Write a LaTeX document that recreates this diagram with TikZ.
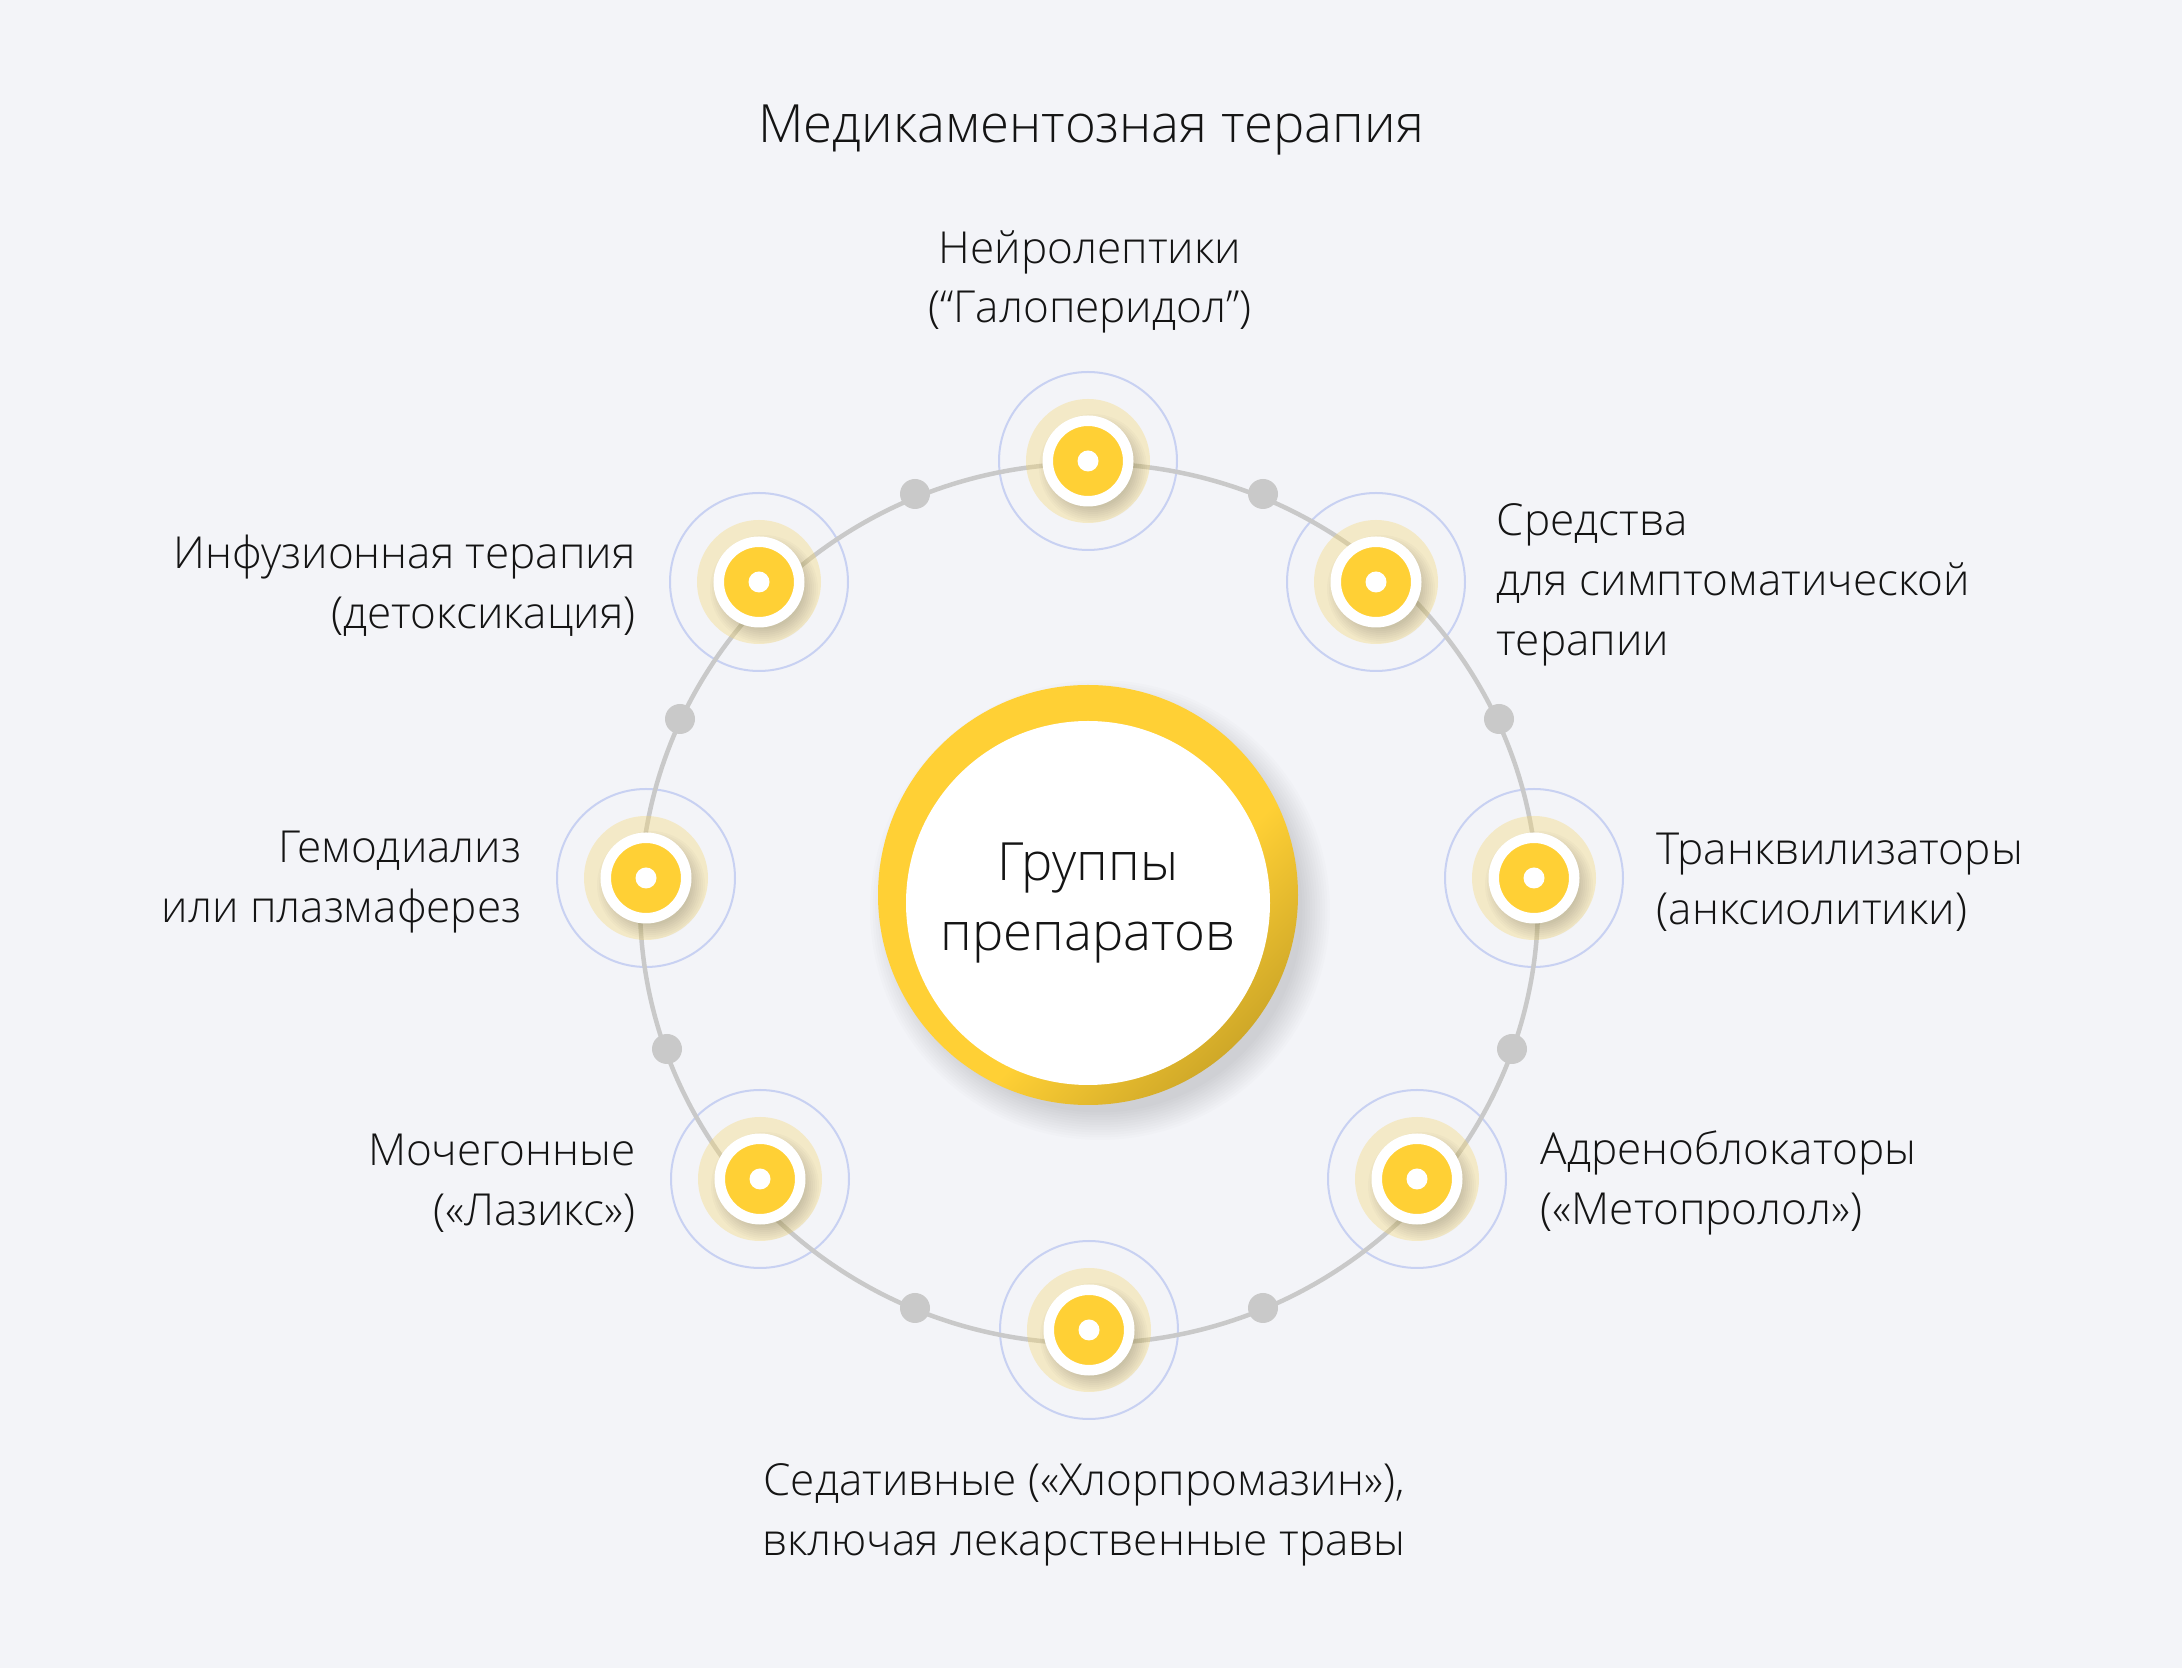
\documentclass[tikz,border=0pt]{standalone}
\usepackage{fontspec}
\setmainfont{Open Sans}[UprightFont=* Light]
\definecolor{bgcol}{RGB}{243,244,248}
\definecolor{ringgray}{RGB}{201,201,201}
\definecolor{lavender}{RGB}{200,209,242}
\definecolor{hubyellow}{RGB}{255,208,53}
\definecolor{darkyellow}{RGB}{188,152,35}
\definecolor{haloyellow}{RGB}{245,215,110}
\definecolor{txt}{RGB}{20,20,20}
\pgfdeclarehorizontalshading{discshade}{100bp}{color(0bp)=(hubyellow); color(58bp)=(hubyellow); color(82bp)=(darkyellow); color(100bp)=(darkyellow)}
\begin{document}
\begin{tikzpicture}
  [x=0.1mm,y=-0.1mm,
   ringline/.style={draw=ringgray,line width=0.45mm},
   orbit/.style={draw=lavender,line width=0.2mm},
   point/.style={circle,fill=ringgray,inner sep=0pt,minimum size=3mm},
   hub/.style={circle,fill=hubyellow,draw=white,line width=1.05mm,inner sep=0pt,minimum size=8.05mm},
   lbl/.style={text=txt,inner sep=0pt,font=\fontsize{12.55}{17}\selectfont},]

\fill[bgcol] (0,0) rectangle (2182,1668);
\useasboundingbox (0,0) rectangle (2182,1668);

\node[inner sep=0pt,text=txt,font=\fontsize{15}{18}\selectfont] (title) at (1091,130) {Медикаментозная терапия};

% central disc
\foreach \k in {1,...,12}
  \fill[black,opacity=0.012] (1100,910) circle ({200+2.5*\k});
\shade[shading=discshade,shading angle=-45] (1088,895) circle (210);
\node[circle,fill=white,minimum size=36.4mm,inner sep=0pt,align=center,text=txt,font=\fontsize{15}{20}\selectfont] (groups) at (1088,903) {Группы\\препаратов};

\foreach \i/\x/\y in {1/1088/461,2/1376/582,3/1534/878,4/1417/1179,5/1089/1330,6/760/1179,7/646/878,8/759/582}
  \draw[orbit] (\x,\y) circle (89);

\draw[ringline] (1089,903.5) ellipse [x radius=449, y radius=440];

\foreach \i/\x/\y in {1/915/494,2/1263/494,3/1499/719,4/1512/1049,5/1263/1308,6/915/1308,7/667/1049,8/680/719}
  \node[point] (d\i) at (\x,\y) {};

\foreach \i/\x/\y in {1/1088/461,2/1376/582,3/1534/878,4/1417/1179,5/1089/1330,6/760/1179,7/646/878,8/759/582}
{
  \fill[haloyellow,opacity=0.35] (\x,\y) circle (62);
  \foreach \k in {1,...,8}
    \fill[black,opacity=0.018] (\x+5,\y+7) circle ({38+2*\k});
  \node[hub] (n\i) at (\x,\y) {};
  \fill[white] (n\i) circle (10.5);
}

\node[lbl,align=center] (l1) at (1090,282) {Нейролептики\\(“Галоперидол”)};
\node[lbl,align=left,anchor=west] (l2) at (1496,585) {Средства\\для симптоматической\\терапии};
\node[lbl,align=left,anchor=west] (l3) at (1656,882) {Транквилизаторы\\(анксиолитики)};
\node[lbl,align=left,anchor=west] (l4) at (1540,1183) {Адреноблокаторы\\(«Метопролол»)};
\node[lbl,align=center] (l5) at (1084,1515) {Седативные («Хлорпромазин»),\\включая лекарственные травы};
\node[lbl,align=right,anchor=east] (l6) at (636,1183) {Мочегонные\\(«Лазикс»)};
\node[lbl,align=right,anchor=east] (l7) at (522,882) {Гемодиализ\\или плазмаферез};
\node[lbl,align=right,anchor=east] (l8) at (636,586) {Инфузионная терапия\\(детоксикация)};

\end{tikzpicture}
\end{document}
